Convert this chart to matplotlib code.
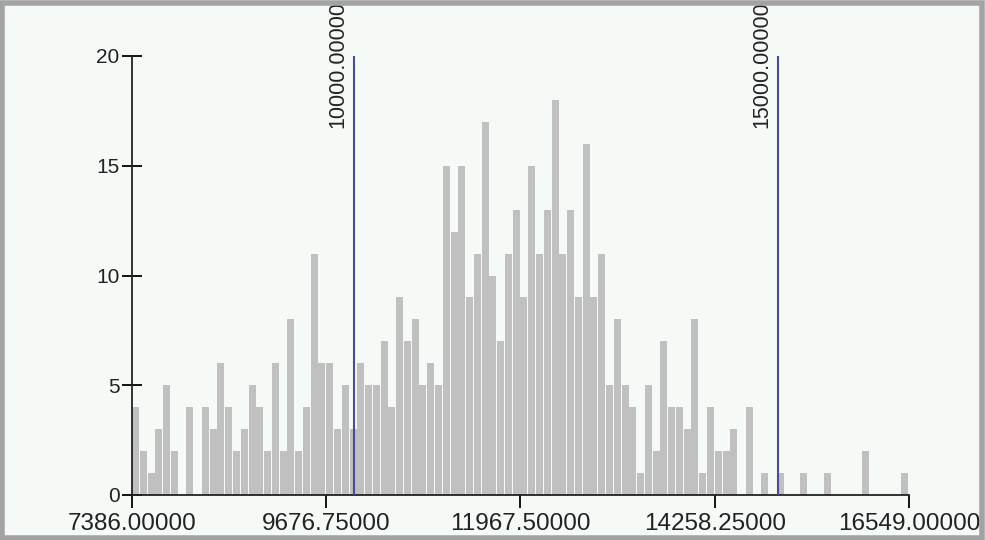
import numpy as np
import matplotlib
matplotlib.use('Agg')
import matplotlib.pyplot as plt
from matplotlib.patches import Rectangle

# histogram counts, 100 equal bins between x_min and x_max
x_min = 7386.0
x_max = 16549.0
counts = [4, 2, 1, 3, 5, 2, 0, 4, 0, 4, 3, 6, 4, 2, 3, 5, 4, 2, 6, 2, 8, 2, 4, 11, 6,
          6, 3, 5, 3, 6, 5, 5, 7, 4, 9, 7, 8, 5, 6, 5, 15, 12, 15, 9, 11, 17, 10, 7, 11, 13,
          9, 15, 11, 13, 18, 11, 13, 9, 16, 9, 11, 5, 8, 5, 4, 1, 5, 2, 7, 4, 4, 3, 8, 1,
          4, 2, 2, 3, 0, 4, 0, 1, 0, 1, 0, 0, 1, 0, 0, 1, 0, 0, 0, 0, 2, 0, 0, 0, 0, 1]
markers = [10000.0, 15000.0]
x_ticks = [7386.0, 9676.75, 11967.5, 14258.25, 16549.0]
y_ticks = [0, 5, 10, 15, 20]

plt.rcParams['font.family'] = ['Liberation Sans', 'DejaVu Sans']
bg = '#f6faf7'

fig = plt.figure(figsize=(9.85, 5.4), dpi=100, facecolor=bg)
ax = fig.add_axes([132 / 985, 45 / 540, 777 / 985, 439 / 540])
ax.set_facecolor(bg)

edges = np.linspace(x_min, x_max, len(counts) + 1)
bw = edges[1] - edges[0]
ax.bar(edges[:-1], counts, width=bw * 0.9, align='edge', color='#c0c0c0', linewidth=0)

for m in markers:
    ax.plot([m, m], [0, 20], color='#4b4b9c', lw=1.5, zorder=3)
    ax.annotate('%.5f' % m, xy=(m, 16.7), xytext=(-4, 0), textcoords='offset points',
                rotation=90, ha='right', va='bottom', fontsize=15.5, color='#222222',
                annotation_clip=False)

ax.set_xlim(x_min, x_max)
ax.set_ylim(0, 20)
ax.set_xticks(x_ticks)
ax.set_xticklabels(['%.5f' % t for t in x_ticks], fontsize=17.5, color='#222222')
ax.set_yticks(y_ticks)
ax.set_yticklabels([str(t) for t in y_ticks], fontsize=15, color='#222222')
ax.tick_params(axis='y', direction='inout', length=14, width=1.3, pad=2)
ax.tick_params(axis='x', direction='out', length=9, width=1.3, pad=4)
for s in ['top', 'right']:
    ax.spines[s].set_visible(False)
for s in ['left', 'bottom']:
    ax.spines[s].set_linewidth(1.3)
    ax.spines[s].set_color('#222222')

# grey frame around the picture
fig.patches.append(Rectangle((0.002, 0.004), 0.995, 0.99, transform=fig.transFigure,
                             fill=False, edgecolor='#a3a3a3', linewidth=4, zorder=10))

fig.savefig('out.png', dpi=100, facecolor=bg)
